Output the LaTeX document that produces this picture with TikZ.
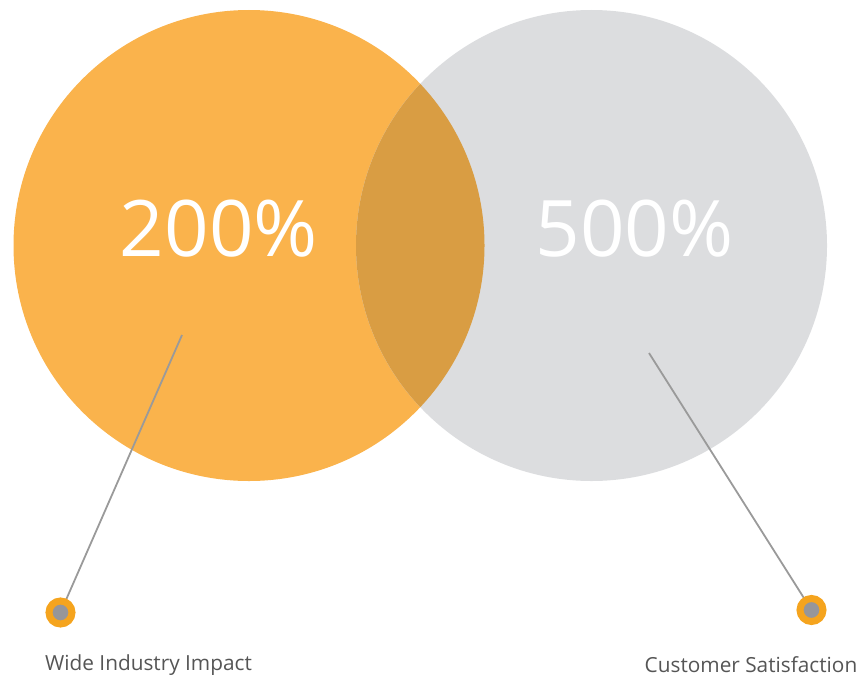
\documentclass[tikz,border=0pt]{standalone}
\usepackage{fontspec}
\setmainfont{Open Sans}
\definecolor{venorange}{HTML}{FAB34C}
\definecolor{vengray}{HTML}{DCDDDF}
\definecolor{venmix}{HTML}{D99D43}
\definecolor{dotorange}{HTML}{F5A41E}
\definecolor{dotgray}{HTML}{96969A}
\definecolor{leadgray}{HTML}{9A9A9A}
\definecolor{labelgray}{HTML}{555555}
\tikzset{bigcircle/.style={circle,draw=none,minimum size=471pt,inner sep=0pt},
  percent/.style={text=white,font=\fontsize{78}{78}\selectfont},
  pin/.style={circle,fill=dotgray,draw=dotorange,line width=7pt,minimum size=23pt,inner sep=0pt},
  caption/.style={text=labelgray,font=\fontsize{20.8}{21}\selectfont},
  lead/.style={draw=leadgray,line width=1.8pt}}

\begin{document}
\begin{tikzpicture}[x=1pt,y=-1pt]
\useasboundingbox (0,0) rectangle (861,677);
% the two circles
\node[bigcircle,fill=venorange] (impact) at (249,245.5) {};
\node[bigcircle,fill=vengray] (satisf) at (591.5,245.5) {};
% darker overlap
\begin{scope}
  \clip (impact.center) circle[radius=235.5pt];
  \fill[venmix] (satisf.center) circle[radius=235.5pt];
\end{scope}
% numbers
\node[percent] (n1) at (219,229) {200\%};
\node[percent] (n2) at (634.5,229) {500\%};
% leader lines, then the pins on top
\coordinate (s1) at (182,335);
\coordinate (s2) at (649,353);
\coordinate (e1) at (60.5,612.5);
\coordinate (e2) at (811.5,610);
\draw[lead] (s1) -- (e1);
\draw[lead] (s2) -- (e2);
\node[pin] (p1) at (e1) {};
\node[pin] (p2) at (e2) {};
% captions
\node[caption] (c1) at (148.5,665) {Wide Industry Impact};
\node[caption] (c2) at (751,665) {Customer Satisfaction};
\end{tikzpicture}
\end{document}
